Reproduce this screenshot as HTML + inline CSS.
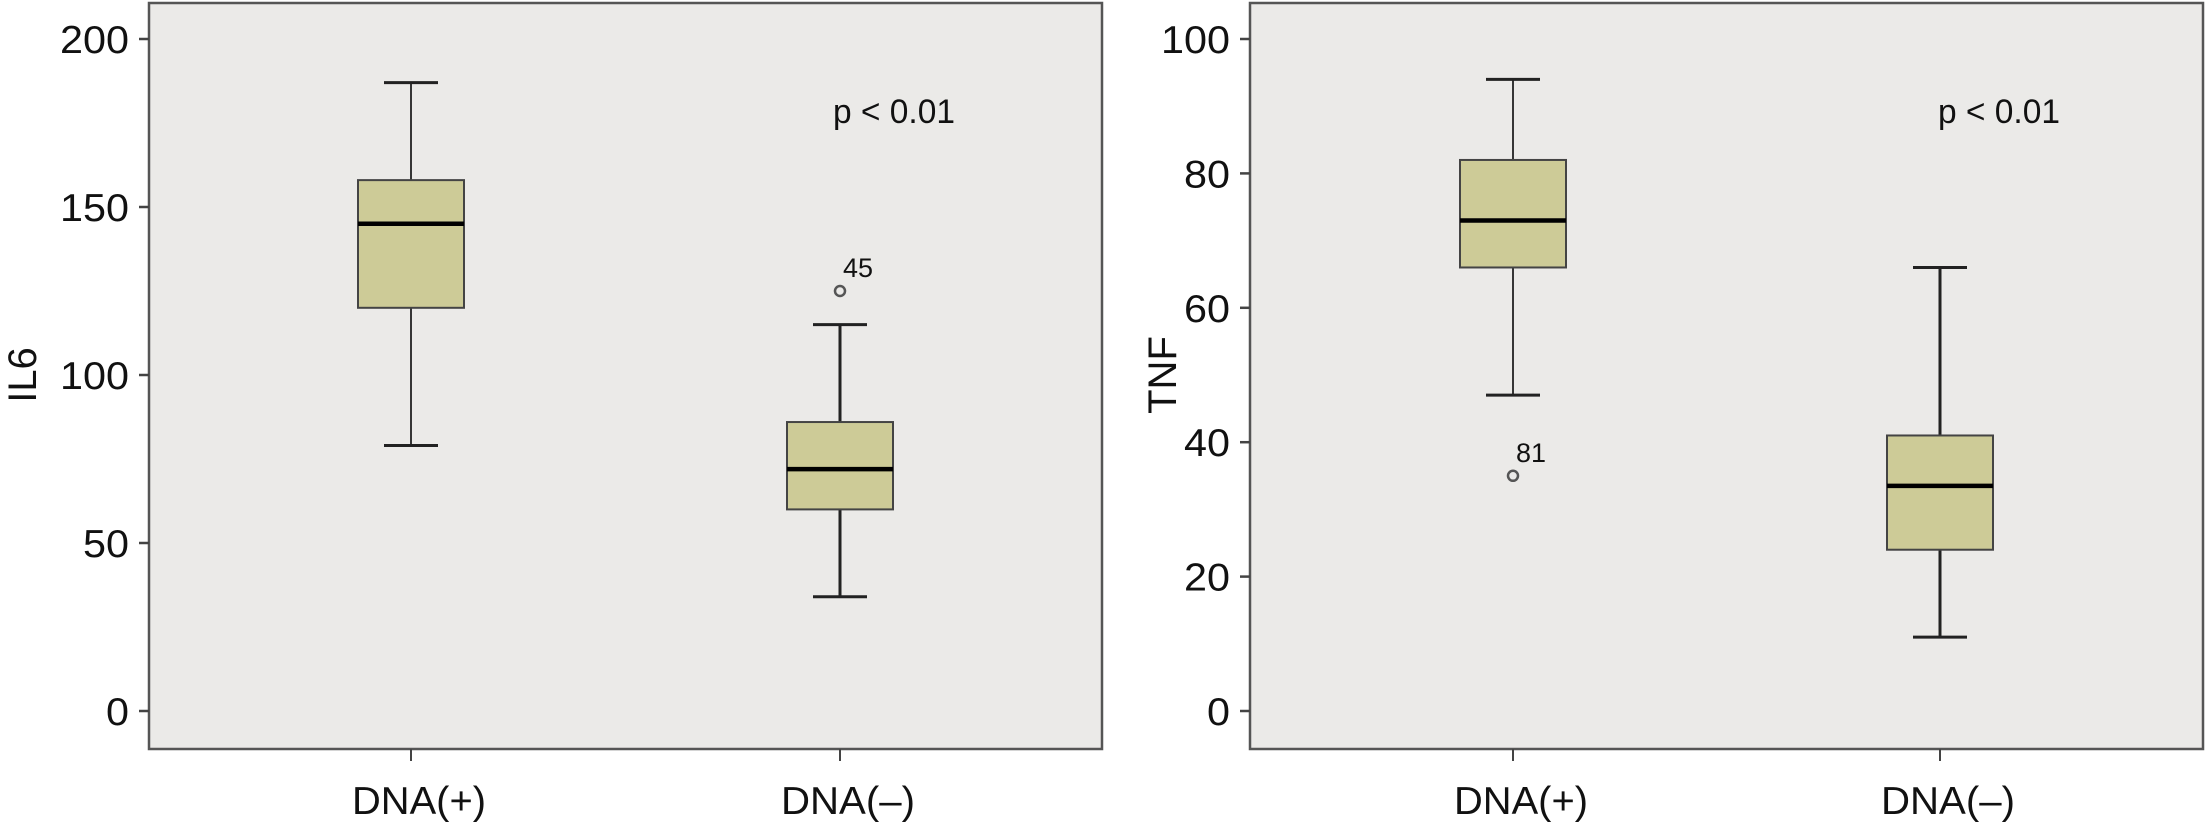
<!DOCTYPE html>
<html><head><meta charset="utf-8"><style>
html,body{margin:0;padding:0;background:#fff;}
svg{display:block;font-family:"Liberation Sans",sans-serif;}
</style></head><body>
<svg id="chart" width="2207" height="824" viewBox="0 0 2207 824"></svg>
<script>
const categories = ["DNA(+)", "DNA(\u2013)"];
const il6Ticks = [0, 50, 100, 150, 200];
const il6Min = [79, 34];
const il6Q1 = [120, 60];
const il6Median = [145, 72];
const il6Q3 = [158, 86];
const il6Max = [187, 115];
const il6Outliers = [null, 125];
const il6OutlierLabels = ["", "45"];
const tnfTicks = [0, 20, 40, 60, 80, 100];
const tnfMin = [47, 11];
const tnfQ1 = [66, 24];
const tnfMedian = [73, 33.5];
const tnfQ3 = [82, 41];
const tnfMax = [94, 66];
const tnfOutliers = [35, null];
const tnfOutlierLabels = ["81", ""];

const NS = "http://www.w3.org/2000/svg";
const svg = document.getElementById("chart");
function mk(tag, attrs, parent) {
  const e = document.createElementNS(NS, tag);
  for (const k in attrs) e.setAttribute(k, attrs[k]);
  (parent || svg).appendChild(e);
  return e;
}

function panel(cfg) {
  const g = mk("g", {});
  
  
  const yTop = 39, yBot = 711;
  const y = v => yBot - (v - cfg.yMin) / (cfg.yMax - cfg.yMin) * (yBot - yTop);
  const x = i => cfg.catX[i];
  const frame = mk("rect", {x: cfg.fx0, y: 3, width: cfg.fx1 - cfg.fx0, height: 746, fill: "#ebeae8", stroke: "#555", "stroke-width": 2.5}, g);
  
  
  cfg.ticks.forEach(t => {
    const tk = mk("line", {x1: cfg.fx0 - 10, x2: cfg.fx0, y1: y(t), y2: y(t), stroke: "#444", "stroke-width": 2.5}, g);
    
    
    const s = String(t);
    const tl = mk("text", {x: cfg.fx0 - 20, y: y(t) + 14, "text-anchor": "end", "font-size": 39, fill: "#111", textLength: s.length * 23, lengthAdjust: "spacingAndGlyphs"}, g);
    tl.textContent = s;
    
    
  });
  const yt = mk("text", {x: 0, y: 0, "text-anchor": "middle", "font-size": 40, fill: "#111", transform: `translate(${cfg.titleX + 14},${(yTop + yBot) / 2}) rotate(-90)`}, g);
  yt.textContent = cfg.title;
  
  
  categories.forEach((c, i) => {
    const tk = mk("line", {x1: x(i), x2: x(i), y1: 749, y2: 761, stroke: "#444", "stroke-width": 2}, g);
    
    
    const tl = mk("text", {x: x(i) + 8, y: 814, "text-anchor": "middle", "font-size": 39, fill: "#111", textLength: 134, lengthAdjust: "spacingAndGlyphs"}, g);
    tl.textContent = c;
    
    
    const bw = 53, cw = 27, sw = i === 0 ? 1.8 : 3;
    const wl = mk("line", {x1: x(i), x2: x(i), y1: y(cfg.max[i]), y2: y(cfg.min[i]), stroke: "#222", "stroke-width": sw}, g);
    
    
    [cfg.max[i], cfg.min[i]].forEach(v => {
      const cap = mk("line", {x1: x(i) - cw, x2: x(i) + cw, y1: y(v), y2: y(v), stroke: "#222", "stroke-width": 3}, g);
      
      
    });
    const box = mk("rect", {x: x(i) - bw, y: y(cfg.q3[i]), width: 2 * bw, height: y(cfg.q1[i]) - y(cfg.q3[i]), fill: "#cdcb97", stroke: "#444", "stroke-width": 2}, g);
    
    
    const med = mk("line", {x1: x(i) - bw, x2: x(i) + bw, y1: y(cfg.med[i]), y2: y(cfg.med[i]), stroke: "#000", "stroke-width": 4.5}, g);
    
    
    if (cfg.out[i] !== null) {
      const o = mk("circle", {cx: x(i), cy: y(cfg.out[i]), r: 5, fill: "none", stroke: "#555", "stroke-width": 2.5}, g);
      
      
      const ol = mk("text", {x: x(i) + 3, y: y(cfg.out[i]) - 14, "font-size": 27, fill: "#111", textLength: 30, lengthAdjust: "spacingAndGlyphs"}, g);
      ol.textContent = cfg.outLbl[i];
      
      
    }
  });
  const p = mk("text", {x: cfg.pX, y: 123, "font-size": 34, fill: "#111", textLength: 122, lengthAdjust: "spacingAndGlyphs"}, g);
  p.textContent = "p < 0.01";
  
  
}

panel({name: "il6-panel", fx0: 149, fx1: 1102, catX: [411, 840], yMin: 0, yMax: 200, ticks: il6Ticks,
  min: il6Min, q1: il6Q1, med: il6Median, q3: il6Q3, max: il6Max, out: il6Outliers, outLbl: il6OutlierLabels,
  title: "IL6", titleX: 22, pX: 833});
panel({name: "tnf-panel", fx0: 1250, fx1: 2203, catX: [1513, 1940], yMin: 0, yMax: 100, ticks: tnfTicks,
  min: tnfMin, q1: tnfQ1, med: tnfMedian, q3: tnfQ3, max: tnfMax, out: tnfOutliers, outLbl: tnfOutlierLabels,
  title: "TNF", titleX: 1162, pX: 1938});
</script>
</body></html>
